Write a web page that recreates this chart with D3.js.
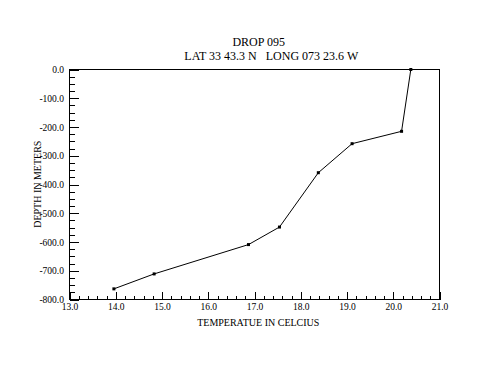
<!DOCTYPE html>
<html>
<head>
<meta charset="utf-8">
<script src="https://cdn.jsdelivr.net/npm/d3@7"></script>
<style>
body { margin: 0; background: #fff; }
svg { display: block; }
text { font-family: "Liberation Serif", "Times New Roman", serif; }
</style>
</head>
<body>
<svg id="chart" width="500" height="385"></svg>
<script>
// drop 095 profile
var temps = [20.38, 20.18, 19.11, 18.38, 17.54, 16.87, 14.83, 13.96];
var depths = [0, -215, -258, -359, -548, -609, -711, -763];

var xTicks = [13, 14, 15, 16, 17, 18, 19, 20, 21];
var yTicks = [0, -100, -200, -300, -400, -500, -600, -700, -800];

var titleLines = ["DROP 095", "LAT 33 43.3 N   LONG 073 23.6 W"];
var xLabel = "TEMPERATUE IN CELCIUS";
var yLabel = "DEPTH IN METERS";

var svg = d3.select("#chart");
var fmt = function(d) { return d.toFixed(1); };

var x = d3.scaleLinear().domain([13, 21]).range([69.5, 439.5]);
var y = d3.scaleLinear().domain([0, -800]).range([69.5, 299.5]);

var xMinor = d3.range(13, 21.001, 0.2).filter(function(d) { return Math.abs(d - Math.round(d)) > 0.01; });
var yMinor = d3.range(0, -800.001, -25).filter(function(d) { return d % 100 != 0; });

// frame
svg.append("rect")
    .attr("x", x(13)).attr("y", y(0))
    .attr("width", x(21) - x(13)).attr("height", y(-800) - y(0))
    .attr("fill", "none").attr("stroke", "#000");

// x axis, ticks pointing in
svg.append("g")
    .attr("transform", "translate(0," + y(-800) + ")")
    .call(d3.axisBottom(x).tickValues(xMinor).tickSizeInner(-4).tickSizeOuter(0).tickFormat(""));
svg.append("g")
    .attr("class", "xaxis")
    .attr("transform", "translate(0," + y(-800) + ")")
    .call(d3.axisBottom(x).tickValues(xTicks).tickSizeInner(-8).tickSizeOuter(0).tickPadding(4).tickFormat(fmt));

// y axis
svg.append("g")
    .attr("transform", "translate(" + x(13) + ",0)")
    .call(d3.axisLeft(y).tickValues(yMinor).tickSizeInner(-5).tickSizeOuter(0).tickFormat(""));
svg.append("g")
    .attr("class", "yaxis")
    .attr("transform", "translate(" + x(13) + ",0)")
    .call(d3.axisLeft(y).tickValues(yTicks).tickSizeInner(-9).tickSizeOuter(0).tickPadding(5.5).tickFormat(fmt));

svg.selectAll(".domain").remove();
svg.selectAll("g")
    .attr("font-family", "Liberation Serif, Times New Roman, serif")
    .attr("font-size", 9.5);
svg.selectAll(".tick line").attr("stroke", "#000").attr("shape-rendering", "crispEdges");
svg.selectAll(".tick text").attr("fill", "#000");

// profile line
var pts = temps.map(function(t, i) { return [t, depths[i]]; });
svg.append("path")
    .datum(pts)
    .attr("fill", "none")
    .attr("stroke", "#000")
    .attr("stroke-width", 1)
    .attr("d", d3.line().x(function(d) { return x(d[0]); }).y(function(d) { return y(d[1]); }));

svg.selectAll(".pt")
    .data(pts)
    .enter().append("rect")
    .attr("class", "pt")
    .attr("x", function(d) { return x(d[0]) - 1.5; })
    .attr("y", function(d) { return y(d[1]) - 1.5; })
    .attr("width", 3).attr("height", 3)
    .attr("fill", "#000");

// titles
svg.append("text")
    .attr("x", 258.7).attr("y", 45.5)
    .attr("text-anchor", "middle")
    .style("font-size", "12px")
    .text(titleLines[0]);
svg.append("text")
    .attr("x", 271.3).attr("y", 59.5)
    .attr("text-anchor", "middle")
    .attr("xml:space", "preserve")
    .style("white-space", "pre")
    .style("font-size", "12px")
    .text(titleLines[1]);

svg.append("text")
    .attr("x", 258.3).attr("y", 325.5)
    .attr("text-anchor", "middle")
    .style("font-size", "10px")
    .text(xLabel);

svg.append("text")
    .attr("transform", "translate(40.5,184.2) rotate(-90)")
    .attr("text-anchor", "middle")
    .style("font-size", "10px")
    .text(yLabel);
</script>
</body>
</html>
